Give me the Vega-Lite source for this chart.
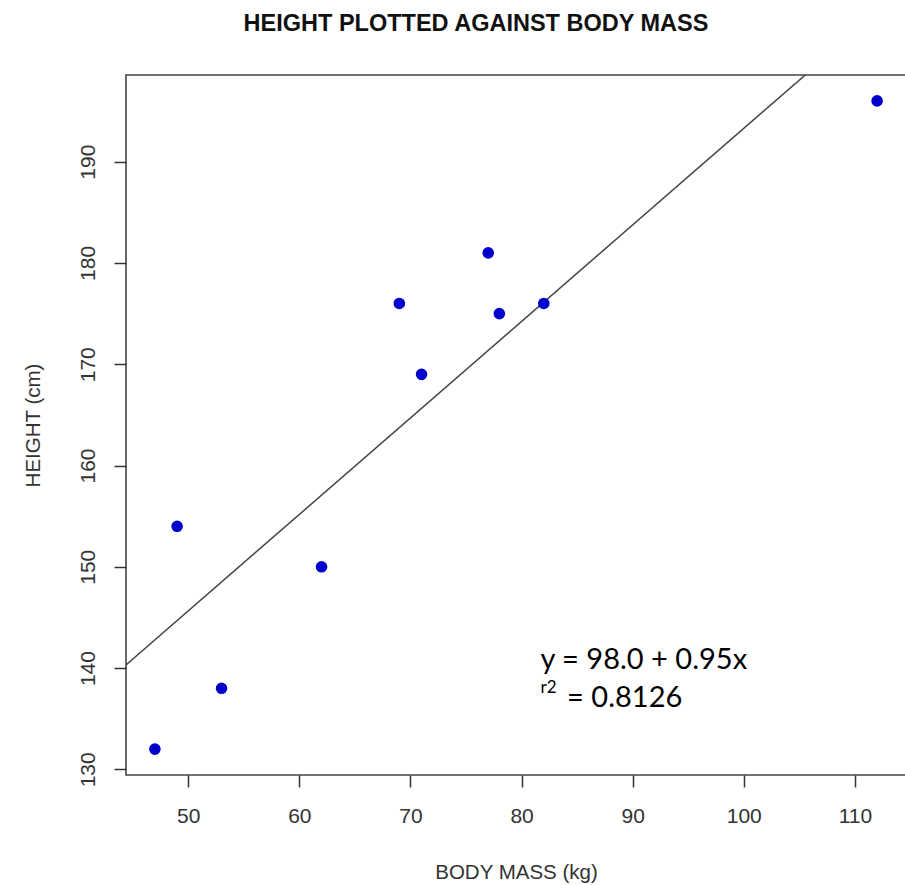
{
  "$schema": "https://vega.github.io/schema/vega-lite/v6.json",
  "width": 780,
  "height": 700,
  "autosize": {"type": "none"},
  "padding": {"left": 126, "top": 75, "right": 0, "bottom": 110},
  "background": "white",
  "title": {
    "text": "HEIGHT PLOTTED AGAINST BODY MASS",
    "font": "Liberation Sans",
    "fontSize": 23.5,
    "fontWeight": "bold",
    "color": "#111111",
    "anchor": "middle",
    "dx": -40,
    "offset": 40
  },
  "config": {
    "view": {"stroke": "#444444", "strokeWidth": 1.6},
    "axis": {
      "grid": false,
      "domain": false,
      "ticks": true,
      "tickColor": "#333333",
      "tickWidth": 1.5,
      "tickSize": 12,
      "labelFont": "Liberation Sans",
      "labelFontSize": 21,
      "labelColor": "#333333",
      "titleFont": "Liberation Sans",
      "titleFontSize": 20.5,
      "titleFontWeight": "normal",
      "titleColor": "#333333"
    }
  },
  "datasets": {
    "points": [
      {"mass": 47, "height": 132},
      {"mass": 49, "height": 154},
      {"mass": 53, "height": 138},
      {"mass": 62, "height": 150},
      {"mass": 69, "height": 176},
      {"mass": 71, "height": 169},
      {"mass": 77, "height": 181},
      {"mass": 78, "height": 175},
      {"mass": 82, "height": 176},
      {"mass": 112, "height": 196}
    ],
    "fit": [
      {"mass": 44.4, "height": 140.3},
      {"mass": 114.6, "height": 207.2}
    ],
    "eq": [
      {"mass": 81.7, "height": 139.9, "label": "y = 98.0 + 0.95x"}
    ],
    "eq2": [
      {"mass": 84.1, "height": 136.2, "label": "= 0.8126"}
    ],
    "sup": [
      {"mass": 81.7, "height": 137.5, "label": "r2"}
    ]
  },
  "encoding": {
    "x": {
      "field": "mass",
      "type": "quantitative",
      "scale": {"domain": [44.4, 114.6], "nice": false, "zero": false},
      "axis": {
        "title": "BODY MASS (kg)",
        "values": [50, 60, 70, 80, 90, 100, 110],
        "labelPadding": 18,
        "titlePadding": 36
      }
    },
    "y": {
      "field": "height",
      "type": "quantitative",
      "scale": {"domain": [129.44, 198.56], "nice": false, "zero": false},
      "axis": {
        "title": "HEIGHT (cm)",
        "values": [130, 140, 150, 160, 170, 180, 190],
        "labelAngle": -90,
        "labelAlign": "center",
        "labelBaseline": "bottom",
        "labelPadding": 16,
        "titlePadding": 34
      }
    }
  },
  "layer": [
    {
      "data": {"name": "fit"},
      "mark": {"type": "line", "color": "#444444", "strokeWidth": 1.5, "clip": true}
    },
    {
      "data": {"name": "points"},
      "mark": {"type": "point", "filled": true, "shape": "circle", "size": 135, "color": "#0000CD", "opacity": 1}
    },
    {
      "data": {"name": "eq"},
      "mark": {"type": "text", "align": "left", "baseline": "alphabetic", "font": "Lato", "fontSize": 29, "color": "#000000"},
      "encoding": {"text": {"field": "label"}}
    },
    {
      "data": {"name": "eq2"},
      "mark": {"type": "text", "align": "left", "baseline": "alphabetic", "font": "Lato", "fontSize": 29, "color": "#000000"},
      "encoding": {"text": {"field": "label"}}
    },
    {
      "data": {"name": "sup"},
      "mark": {"type": "text", "align": "left", "baseline": "alphabetic", "font": "Lato", "fontSize": 17, "color": "#000000"},
      "encoding": {"text": {"field": "label"}}
    }
  ]
}
